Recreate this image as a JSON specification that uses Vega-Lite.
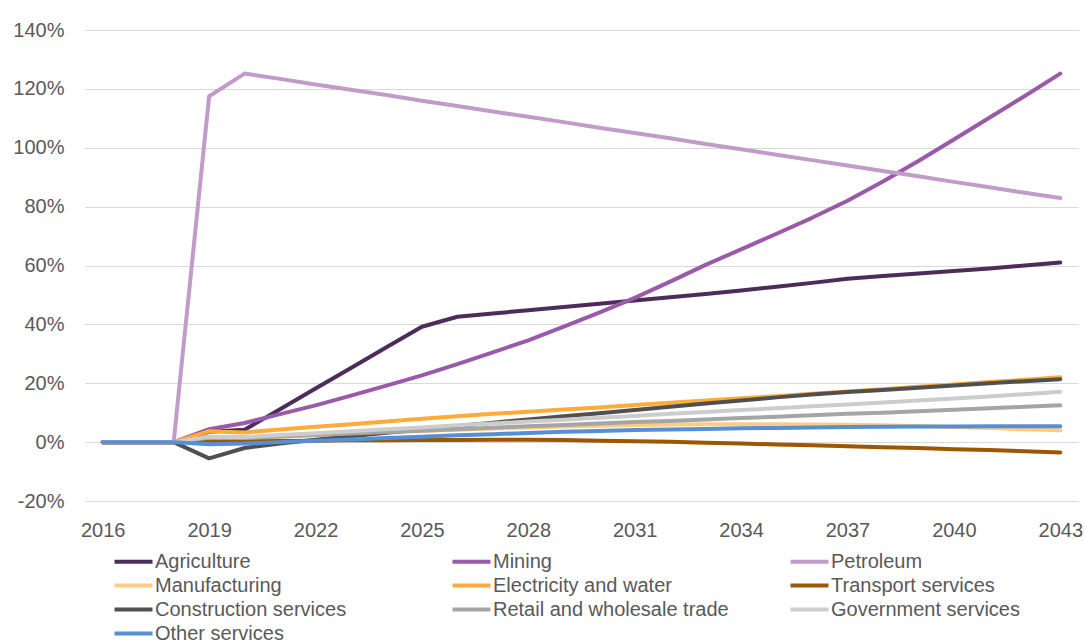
{
  "$schema": "https://vega.github.io/schema/vega-lite/v6.json",
  "width": 993,
  "height": 471,
  "autosize": {"type": "none"},
  "padding": {"left": 85, "top": 30, "right": 6, "bottom": 140},
  "background": "white",
  "config": {
    "view": {"stroke": null},
    "font": "Liberation Sans",
    "axis": {"labelFont": "Liberation Sans", "labelColor": "#595959", "labelFontSize": 20}
  },
  "data": {
    "values": [
      {"year": 2016, "Agriculture": 0, "Mining": 0, "Petroleum": 0, "Manufacturing": 0, "Electricity and water": 0, "Transport services": 0, "Construction services": 0, "Retail and wholesale trade": 0, "Government services": 0, "Other services": 0},
      {"year": 2017, "Agriculture": 0, "Mining": 0, "Petroleum": 0, "Manufacturing": 0, "Electricity and water": 0, "Transport services": 0, "Construction services": 0, "Retail and wholesale trade": 0, "Government services": 0, "Other services": 0},
      {"year": 2018, "Agriculture": 0, "Mining": 0, "Petroleum": 0, "Manufacturing": 0, "Electricity and water": 0, "Transport services": 0, "Construction services": 0, "Retail and wholesale trade": 0, "Government services": 0, "Other services": 0},
      {"year": 2019, "Agriculture": 3.5, "Mining": 4.4, "Petroleum": 117.5, "Manufacturing": 1.5, "Electricity and water": 3.7, "Transport services": 0.3, "Construction services": -5.5, "Retail and wholesale trade": 1.5, "Government services": 1.8, "Other services": -0.7},
      {"year": 2020, "Agriculture": 4.2, "Mining": 6.5, "Petroleum": 125.2, "Manufacturing": 1.2, "Electricity and water": 3.3, "Transport services": 0.3, "Construction services": -2.0, "Retail and wholesale trade": 1.4, "Government services": 1.7, "Other services": -0.5},
      {"year": 2021, "Agriculture": 11.2, "Mining": 9.5, "Petroleum": 123.4, "Manufacturing": 1.8, "Electricity and water": 4.3, "Transport services": 0.4, "Construction services": -0.5, "Retail and wholesale trade": 1.9, "Government services": 2.4, "Other services": 0.0},
      {"year": 2022, "Agriculture": 18.2, "Mining": 12.5, "Petroleum": 121.5, "Manufacturing": 2.4, "Electricity and water": 5.2, "Transport services": 0.5, "Construction services": 0.8, "Retail and wholesale trade": 2.4, "Government services": 3.0, "Other services": 0.5},
      {"year": 2023, "Agriculture": 25.2, "Mining": 15.8, "Petroleum": 119.7, "Manufacturing": 2.9, "Electricity and water": 6.1, "Transport services": 0.6, "Construction services": 2.0, "Retail and wholesale trade": 2.9, "Government services": 3.7, "Other services": 0.9},
      {"year": 2024, "Agriculture": 32.2, "Mining": 19.2, "Petroleum": 117.9, "Manufacturing": 3.4, "Electricity and water": 7.0, "Transport services": 0.6, "Construction services": 3.2, "Retail and wholesale trade": 3.4, "Government services": 4.4, "Other services": 1.4},
      {"year": 2025, "Agriculture": 39.2, "Mining": 22.7, "Petroleum": 116.0, "Manufacturing": 3.8, "Electricity and water": 7.9, "Transport services": 0.7, "Construction services": 4.3, "Retail and wholesale trade": 3.9, "Government services": 5.0, "Other services": 1.8},
      {"year": 2026, "Agriculture": 42.6, "Mining": 26.5, "Petroleum": 114.2, "Manufacturing": 4.2, "Electricity and water": 8.8, "Transport services": 0.7, "Construction services": 5.5, "Retail and wholesale trade": 4.4, "Government services": 5.7, "Other services": 2.3},
      {"year": 2027, "Agriculture": 43.7, "Mining": 30.5, "Petroleum": 112.3, "Manufacturing": 4.6, "Electricity and water": 9.6, "Transport services": 0.8, "Construction services": 6.6, "Retail and wholesale trade": 4.9, "Government services": 6.3, "Other services": 2.7},
      {"year": 2028, "Agriculture": 44.8, "Mining": 34.6, "Petroleum": 110.5, "Manufacturing": 5.0, "Electricity and water": 10.3, "Transport services": 0.8, "Construction services": 7.7, "Retail and wholesale trade": 5.4, "Government services": 7.0, "Other services": 3.1},
      {"year": 2029, "Agriculture": 45.9, "Mining": 39.2, "Petroleum": 108.7, "Manufacturing": 5.3, "Electricity and water": 11.1, "Transport services": 0.7, "Construction services": 8.8, "Retail and wholesale trade": 5.8, "Government services": 7.6, "Other services": 3.5},
      {"year": 2030, "Agriculture": 47.0, "Mining": 44.0, "Petroleum": 106.8, "Manufacturing": 5.6, "Electricity and water": 11.8, "Transport services": 0.5, "Construction services": 9.8, "Retail and wholesale trade": 6.3, "Government services": 8.3, "Other services": 3.8},
      {"year": 2031, "Agriculture": 48.1, "Mining": 49.0, "Petroleum": 105.0, "Manufacturing": 5.8, "Electricity and water": 12.6, "Transport services": 0.3, "Construction services": 10.9, "Retail and wholesale trade": 6.8, "Government services": 8.9, "Other services": 4.1},
      {"year": 2032, "Agriculture": 49.2, "Mining": 54.5, "Petroleum": 103.2, "Manufacturing": 6.0, "Electricity and water": 13.4, "Transport services": 0.1, "Construction services": 12.0, "Retail and wholesale trade": 7.2, "Government services": 9.6, "Other services": 4.3},
      {"year": 2033, "Agriculture": 50.3, "Mining": 60.2, "Petroleum": 101.3, "Manufacturing": 6.1, "Electricity and water": 14.1, "Transport services": -0.2, "Construction services": 13.1, "Retail and wholesale trade": 7.7, "Government services": 10.2, "Other services": 4.5},
      {"year": 2034, "Agriculture": 51.5, "Mining": 65.5, "Petroleum": 99.5, "Manufacturing": 6.1, "Electricity and water": 14.9, "Transport services": -0.5, "Construction services": 14.1, "Retail and wholesale trade": 8.2, "Government services": 10.9, "Other services": 4.7},
      {"year": 2035, "Agriculture": 52.8, "Mining": 70.8, "Petroleum": 97.6, "Manufacturing": 6.1, "Electricity and water": 15.6, "Transport services": -0.8, "Construction services": 15.2, "Retail and wholesale trade": 8.6, "Government services": 11.5, "Other services": 4.8},
      {"year": 2036, "Agriculture": 54.1, "Mining": 76.2, "Petroleum": 95.8, "Manufacturing": 6.0, "Electricity and water": 16.4, "Transport services": -1.1, "Construction services": 16.2, "Retail and wholesale trade": 9.1, "Government services": 12.2, "Other services": 5.0},
      {"year": 2037, "Agriculture": 55.5, "Mining": 82.0, "Petroleum": 94.0, "Manufacturing": 5.9, "Electricity and water": 17.2, "Transport services": -1.4, "Construction services": 17.0, "Retail and wholesale trade": 9.6, "Government services": 12.8, "Other services": 5.1},
      {"year": 2038, "Agriculture": 56.4, "Mining": 88.5, "Petroleum": 92.1, "Manufacturing": 5.7, "Electricity and water": 18.0, "Transport services": -1.7, "Construction services": 17.7, "Retail and wholesale trade": 10.0, "Government services": 13.5, "Other services": 5.2},
      {"year": 2039, "Agriculture": 57.3, "Mining": 95.5, "Petroleum": 90.3, "Manufacturing": 5.4, "Electricity and water": 18.8, "Transport services": -2.0, "Construction services": 18.5, "Retail and wholesale trade": 10.5, "Government services": 14.1, "Other services": 5.3},
      {"year": 2040, "Agriculture": 58.1, "Mining": 102.8, "Petroleum": 88.4, "Manufacturing": 5.1, "Electricity and water": 19.6, "Transport services": -2.4, "Construction services": 19.2, "Retail and wholesale trade": 11.0, "Government services": 14.8, "Other services": 5.3},
      {"year": 2041, "Agriculture": 59.0, "Mining": 110.2, "Petroleum": 86.6, "Manufacturing": 4.8, "Electricity and water": 20.4, "Transport services": -2.7, "Construction services": 20.0, "Retail and wholesale trade": 11.5, "Government services": 15.5, "Other services": 5.4},
      {"year": 2042, "Agriculture": 60.0, "Mining": 117.6, "Petroleum": 84.7, "Manufacturing": 4.4, "Electricity and water": 21.2, "Transport services": -3.1, "Construction services": 20.7, "Retail and wholesale trade": 12.0, "Government services": 16.3, "Other services": 5.4},
      {"year": 2043, "Agriculture": 61.0, "Mining": 125.2, "Petroleum": 82.9, "Manufacturing": 4.0, "Electricity and water": 22.0, "Transport services": -3.5, "Construction services": 21.4, "Retail and wholesale trade": 12.5, "Government services": 17.1, "Other services": 5.4}
    ]
  },
  "transform": [
    {"fold": ["Agriculture", "Mining", "Petroleum", "Manufacturing", "Electricity and water", "Transport services", "Construction services", "Retail and wholesale trade", "Government services", "Other services"], "as": ["sector", "value"]}
  ],
  "mark": {"type": "line", "strokeWidth": 4, "strokeCap": "round", "strokeJoin": "round"},
  "encoding": {
    "x": {
      "field": "year", "type": "quantitative",
      "scale": {"domain": [2015.5, 2043.5], "nice": false, "zero": false},
      "axis": {"title": null, "values": [2016, 2019, 2022, 2025, 2028, 2031, 2034, 2037, 2040, 2043], "format": "d", "domain": false, "ticks": false, "grid": false, "labelPadding": 19, "labelFlush": false}
    },
    "y": {
      "field": "value", "type": "quantitative",
      "scale": {"domain": [-20, 140], "nice": false},
      "axis": {"title": null, "values": [-20, 0, 20, 40, 60, 80, 100, 120, 140], "labelExpr": "datum.value + '%'", "domain": false, "ticks": false, "gridColor": "#d9d9d9", "gridWidth": 1, "labelPadding": 21}
    },
    "color": {
      "field": "sector", "type": "nominal",
      "scale": {
        "domain": ["Agriculture", "Mining", "Petroleum", "Manufacturing", "Electricity and water", "Transport services", "Construction services", "Retail and wholesale trade", "Government services", "Other services"],
        "range": ["#4b2c5a", "#9b59a9", "#c39bcb", "#ffcc80", "#ffab38", "#9c5700", "#505050", "#a5a5a5", "#cccccc", "#5590d6"]
      },
      "legend": {
        "title": null, "orient": "none", "legendX": 37, "legendY": 520, "direction": "horizontal",
        "columns": 3, "gridAlign": "all", "columnPadding": 53, "rowPadding": 2,
        "symbolType": "M-2,0H2", "symbolSize": 361, "symbolStrokeWidth": 4,
        "labelFont": "Liberation Sans", "labelFontSize": 20, "labelColor": "#595959",
        "labelLimit": 400, "labelOffset": 10, "padding": 0
      }
    }
  }
}
